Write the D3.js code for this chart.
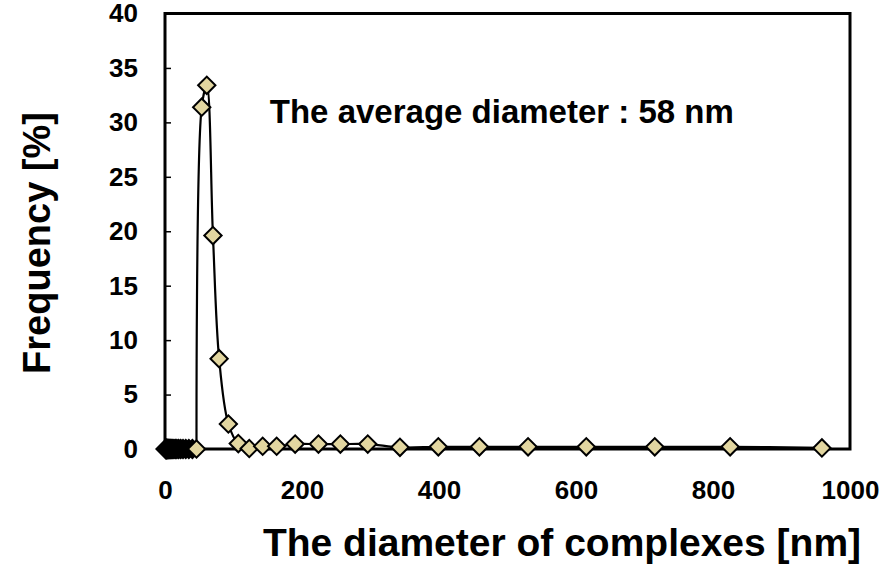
<!DOCTYPE html>
<html>
<head>
<meta charset="utf-8">
<script src="https://cdn.jsdelivr.net/npm/d3@7"></script>
<style>
  body { margin: 0; background: #fff; }
  svg { display: block; font-family: "Liberation Sans", Arial, sans-serif; font-weight: bold; }
</style>
</head>
<body>
<svg width="884" height="564"></svg>
<script>
// size bins below the main peak, all at 0 % (they pile up into the dark blob)
const fineDiameters = [1.0, 1.2, 1.4, 1.6, 1.8, 2.1, 2.4, 2.8, 3.2, 3.7, 4.3, 4.9, 5.7, 6.5, 7.5, 8.6, 9.9, 11.4, 13.1, 15.1, 17.3, 19.9, 22.9, 26.3, 30.3, 34.8, 40.0]
const fineFrequency = fineDiameters.map(() => 0)

const diameters = [46, 53.6, 61, 70, 79, 92.5, 107, 123, 142.6, 163, 190, 224, 256, 296, 343, 399, 459, 530, 615, 715, 825, 959]
const frequency = [0, 31.4, 33.4, 19.6, 8.3, 2.3, 0.5, 0.05, 0.25, 0.25, 0.45, 0.45, 0.45, 0.45, 0.15, 0.2, 0.2, 0.2, 0.2, 0.2, 0.2, 0.1]

const xTicks = [0, 200, 400, 600, 800, 1000]
const yTicks = [0, 5, 10, 15, 20, 25, 30, 35, 40]

const svg = d3.select("svg")
const margin = {top:13.5, right:34, bottom:115, left:165}
const width = +svg.attr("width") - margin.left - margin.right
const height = +svg.attr("height") - margin.top - margin.bottom

const chart = svg.append("g")
    .attr("transform", `translate(${margin.left},${margin.top})`)

const x = d3.scaleLinear().domain([0,1000]).range([0,width])
const y = d3.scaleLinear().domain([0,40]).range([height,0])

// axes
const yAxis = chart.append("g")
    .call(d3.axisLeft(y).tickValues(yTicks).tickSize(-6).tickPadding(27).tickSizeOuter(0))
yAxis.select(".domain").remove()
yAxis.selectAll("line").attr("stroke","#000").attr("stroke-width",1.5)
yAxis.selectAll("text").attr("fill","#000").style("font-size","26px")

const xAxis = chart.append("g")
    .attr("transform", `translate(0,${height})`)
    .call(d3.axisBottom(x).tickValues(xTicks).tickFormat(d3.format("d")).tickSize(0).tickPadding(32))
xAxis.select(".domain").remove()
xAxis.selectAll("text").attr("fill","#000").style("font-size","26px")

// plot frame
chart.append("rect")
    .attr("x", 0).attr("y", 0)
    .attr("width", width).attr("height", height)
    .attr("fill", "none")
    .attr("stroke", "#000")
    .attr("stroke-width", 3)

const diamond = d3.symbol(d3.symbolSquare, 150)

// main series: smoothed line
const pts = diameters.map((d,i) => [d, frequency[i]])
const line = d3.line()
    .x(d => x(d[0]))
    .y(d => y(d[1]))
    .curve(d3.curveCatmullRom.alpha(0.5))

chart.append("path")
    .datum(pts)
    .attr("fill", "none")
    .attr("stroke", "#000")
    .attr("stroke-width", 2.2)
    .attr("d", line)

// fine bins (black blob near zero)
chart.selectAll(".fine")
    .data(fineDiameters.map((d,i) => [d, fineFrequency[i]]))
    .enter().append("path")
    .attr("class", "fine")
    .attr("d", diamond)
    .attr("transform", d => `translate(${x(d[0])},${y(d[1])}) rotate(45)`)
    .attr("fill", "#000")
    .attr("stroke", "#000")
    .attr("stroke-width", 2.5)

chart.selectAll(".pt")
    .data(pts)
    .enter().append("path")
    .attr("class", "pt")
    .attr("d", diamond)
    .attr("transform", d => `translate(${x(d[0])},${y(d[1])}) rotate(45)`)
    .attr("fill", "#e2d6a0")
    .attr("stroke", "#000")
    .attr("stroke-width", 2)

// annotation
chart.append("text")
    .attr("x", x(153))
    .attr("y", y(33.4) + 38)
    .attr("fill", "#000")
    .style("font-size", "33px")
    .text("The average diameter : 58 nm")

// axis titles
svg.append("text")
    .attr("x", 562)
    .attr("y", 556)
    .attr("text-anchor", "middle")
    .attr("fill", "#000")
    .style("font-size", "39px")
    .text("The diameter of complexes [nm]")

svg.append("text")
    .attr("transform", "translate(50,243) rotate(-90)")
    .attr("text-anchor", "middle")
    .attr("fill", "#000")
    .style("font-size", "38px")
    .text("Frequency [%]")
</script>
</body>
</html>
